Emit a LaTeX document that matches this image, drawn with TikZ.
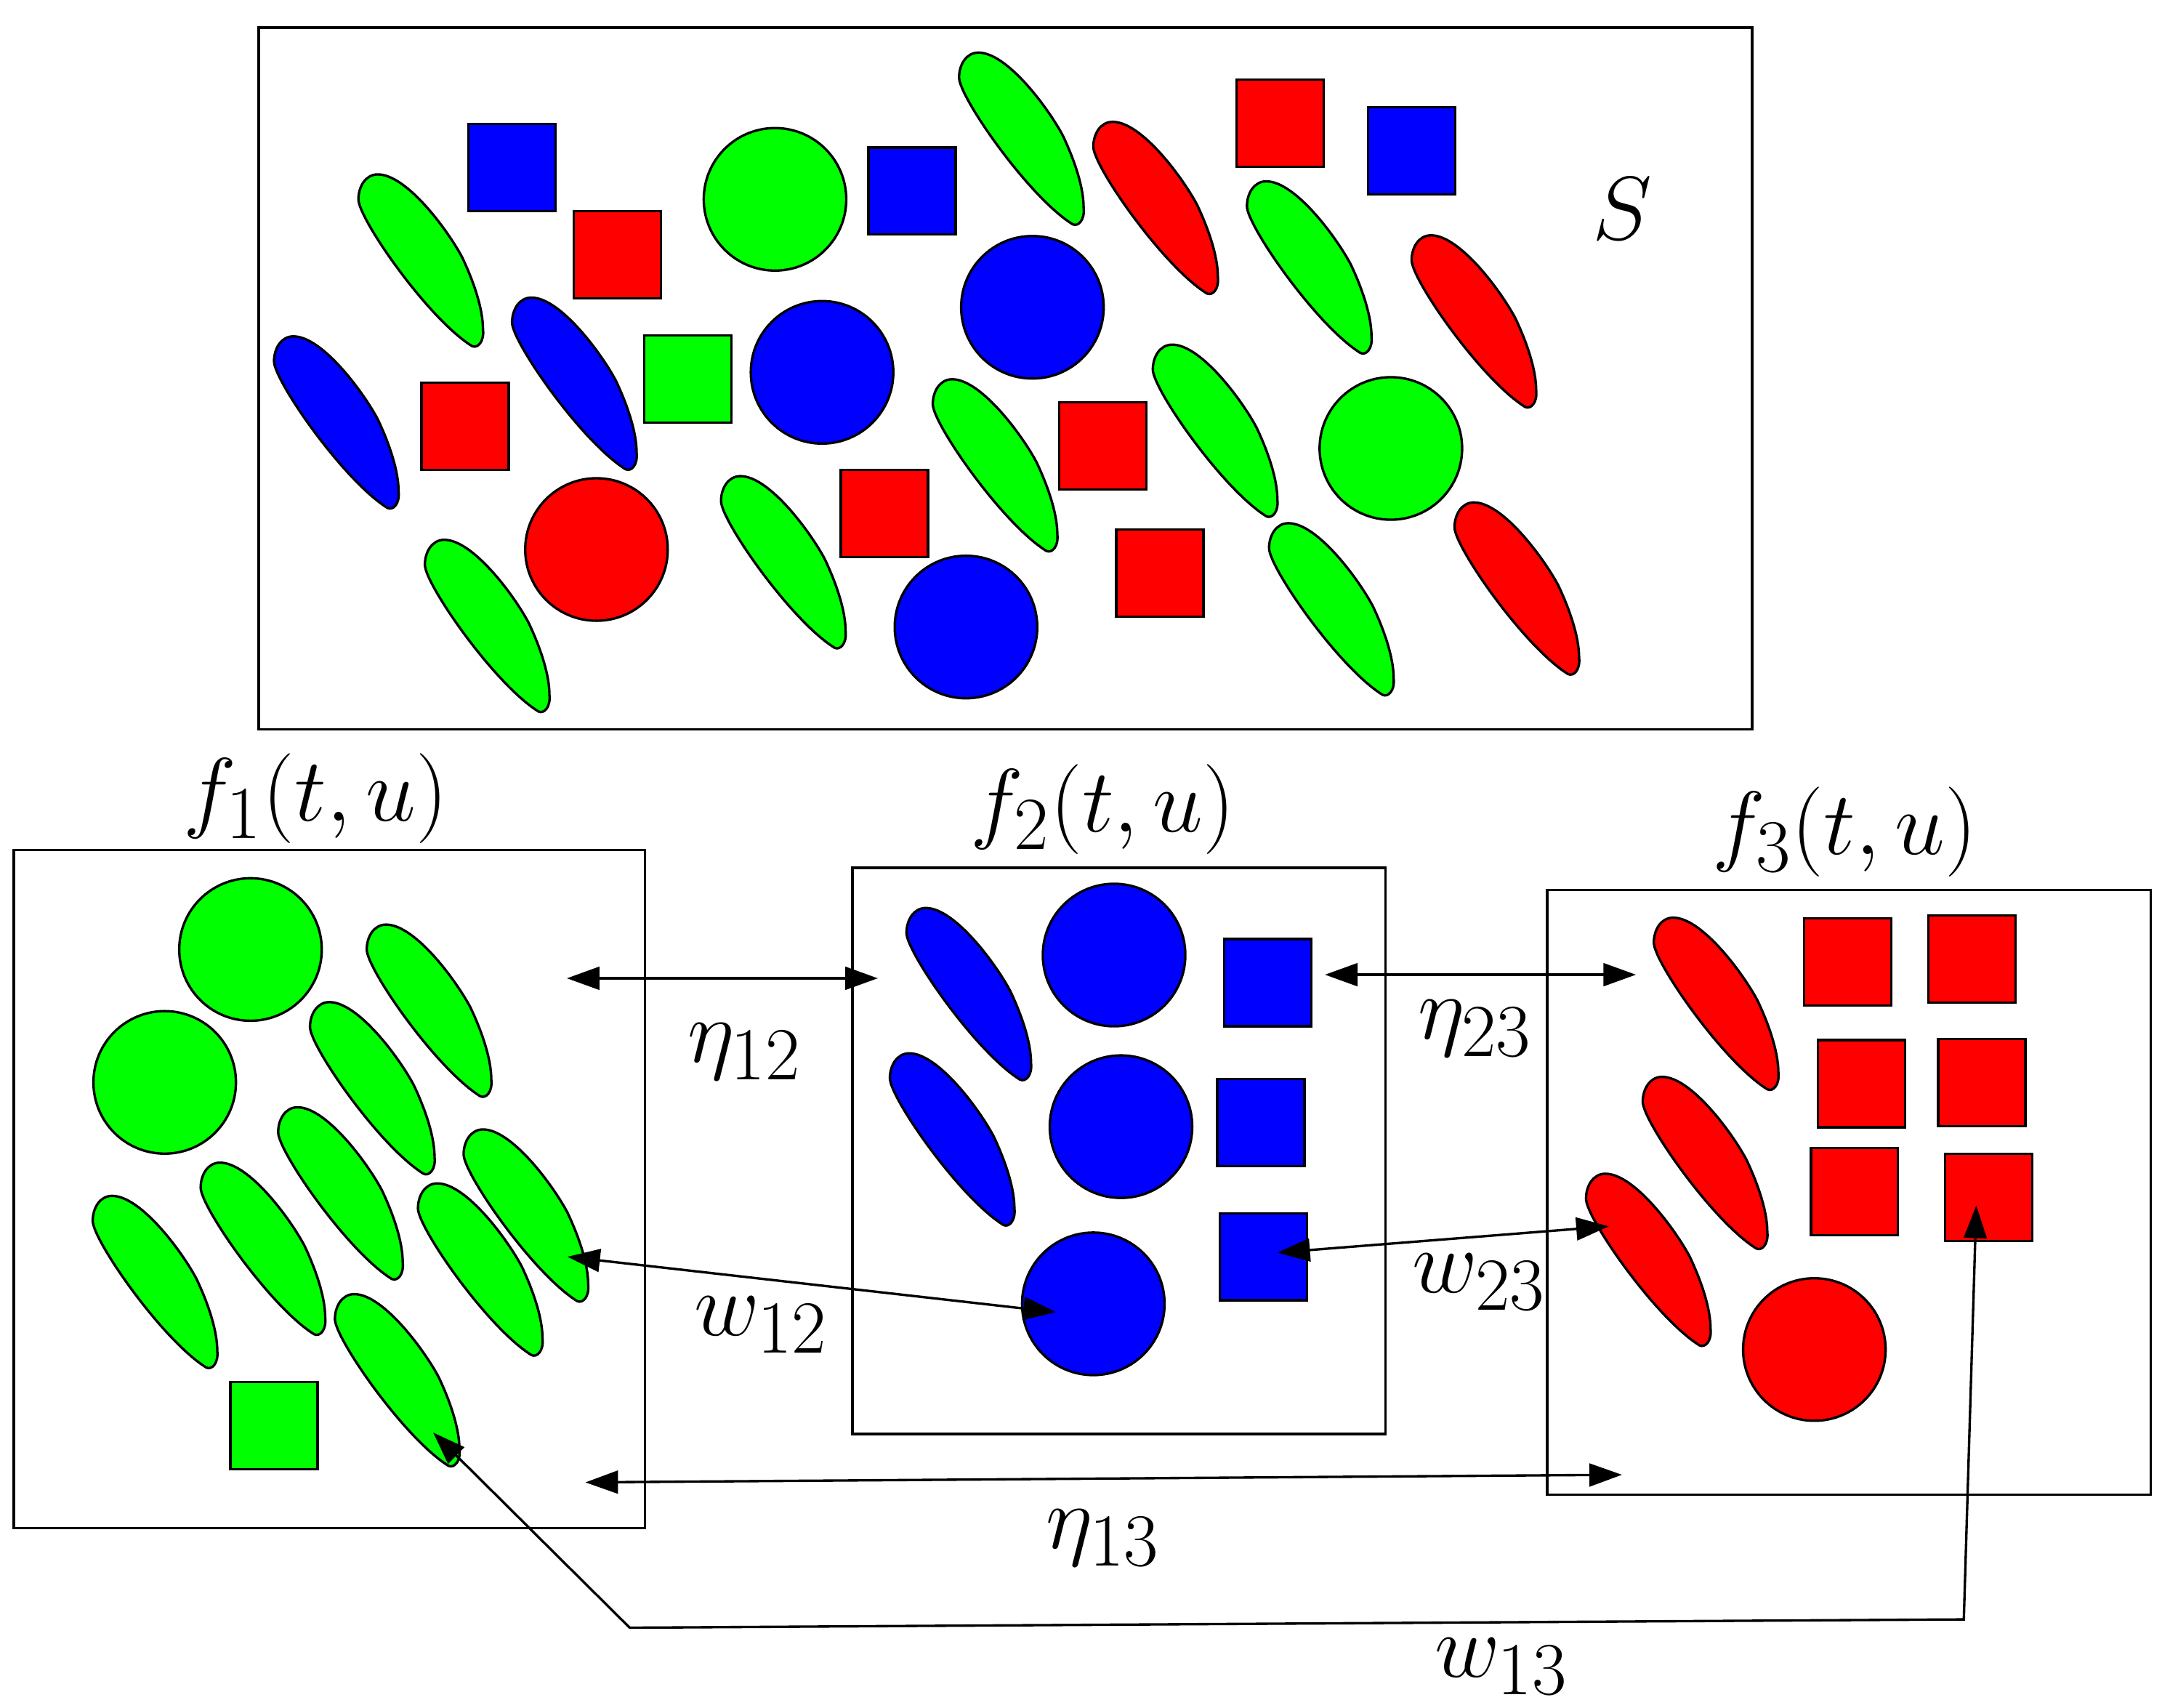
\documentclass[tikz,border=0pt]{standalone}
\usetikzlibrary{arrows.meta}
\definecolor{cg}{RGB}{0,255,0}
\definecolor{cb}{RGB}{0,0,255}
\definecolor{cr}{RGB}{255,0,0}
\begin{document}
\begin{tikzpicture}[x=0.02cm, y=-0.02cm,
  ol/.style={draw=black, line width=1pt},
  sq/.style={ol, rectangle, minimum size=1.26cm, inner sep=0pt},
  circ/.style={ol, circle, minimum size=2.06cm, inner sep=0pt},
  box/.style={draw=black, line width=1pt},
  lbl/.style={scale=1.486, inner sep=0pt, font=\Huge},
  dbl/.style={line width=1pt, {Triangle[length=13.4pt,width=9.4pt]}-{Triangle[length=13.4pt,width=9.4pt]}},
  pics/drop/.style={code={
    \draw[ol, fill=#1] (-31,-62) .. controls (-40,-62) and (-45,-53) .. (-45,-44)
      .. controls (-45,-30) and (5,42) .. (37,62)
      .. controls (41,64) and (46,59) .. (45,50)
      .. controls (45,36) and (39,17) .. (30,-2)
      .. controls (20,-21) and (-10,-62) .. (-31,-62) -- cycle;
  }}
]
\useasboundingbox (0,0) rectangle (1568,1234);

% ---------- top box S ----------
\draw[box] (187,20) rectangle (1266,527);
\node[lbl] (S) at (1172,151) {$S$};

\foreach \p in {(304,188),(738,100),(566,406),(719,336),(878,311),(946,193),(352,452),(962,440)}
  \pic at \p {drop=cg};
\foreach \p in {(243,305),(415,277)}
  \pic at \p {drop=cb};
\foreach \p in {(835,150),(1065,232),(1096,425)}
  \pic at \p {drop=cr};

\node[sq, fill=cb] (sb1) at (370,121) {};
\node[sq, fill=cb] (sb2) at (659,138) {};
\node[sq, fill=cb] (sb3) at (1020,109) {};
\node[sq, fill=cr] (sr1) at (446,184) {};
\node[sq, fill=cr] (sr2) at (336,308) {};
\node[sq, fill=cr] (sr3) at (925,89) {};
\node[sq, fill=cr] (sr4) at (797,322) {};
\node[sq, fill=cr] (sr5) at (639,371) {};
\node[sq, fill=cr] (sr6) at (838,414) {};
\node[sq, fill=cg] (sg1) at (497,274) {};

\node[circ, fill=cg] (cg1) at (560,144) {};
\node[circ, fill=cg] (cg2) at (1005,324) {};
\node[circ, fill=cb] (cb1) at (594,269) {};
\node[circ, fill=cb] (cb2) at (746,222) {};
\node[circ, fill=cb] (cb3) at (698,453) {};
\node[circ, fill=cr] (cr1) at (431,397) {};

% ---------- f1 box ----------
\draw[box] (10,614) rectangle (466,1104);
\node[lbl] (f1) at (228,577) {$f_1(t,u)$};
\node[circ, fill=cg] (g1a) at (181,686) {};
\node[circ, fill=cg] (g1b) at (119,782) {};
\foreach \p in {(310,730),(269,786),(246,862),(380,878),(190,902),(112,926),(347,917),(287,997)}
  \pic at \p {drop=cg};
\node[sq, fill=cg] (g1s) at (198,1030) {};

% ---------- f2 box ----------
\draw[box] (616,627) rectangle (1001,1036);
\node[lbl] (f2) at (797,585) {$f_2(t,u)$};
\foreach \p in {(700,718),(688,823)}
  \pic at \p {drop=cb};
\node[circ, fill=cb] (b2a) at (805,690) {};
\node[circ, fill=cb] (b2b) at (810,814) {};
\node[circ, fill=cb] (b2c) at (790,942) {};
\node[sq, fill=cb] (b2s1) at (916,710) {};
\node[sq, fill=cb] (b2s2) at (911,811) {};
\node[sq, fill=cb] (b2s3) at (913,908) {};

% ---------- f3 box ----------
\draw[box] (1118,643) rectangle (1554,1080);
\node[lbl] (f3) at (1333,601) {$f_3(t,u)$};
\foreach \p in {(1240,725),(1232,840),(1191,910)}
  \pic at \p {drop=cr};
\node[sq, fill=cr] (r3s1) at (1335,695) {};
\node[sq, fill=cr] (r3s2) at (1425,693) {};
\node[sq, fill=cr] (r3s3) at (1345,783) {};
\node[sq, fill=cr] (r3s4) at (1432,782) {};
\node[sq, fill=cr] (r3s5) at (1340,861) {};
\node[sq, fill=cr] (r3s6) at (1437,865) {};
\node[circ, fill=cr] (r3c) at (1311,975) {};

% ---------- connectors ----------
\coordinate (e12a) at (409.6,706.8);
\coordinate (e12b) at (634.3,706.8);
\coordinate (e23a) at (957.4,704.2);
\coordinate (e23b) at (1182.1,704.2);
\coordinate (e13a) at (423,1071);
\coordinate (e13b) at (1172,1065.5);
\coordinate (w12a) at (410,908);
\coordinate (w12b) at (763,948);
\coordinate (w23a) at (923,905);
\coordinate (w23b) at (1162.5,886);
\coordinate (w13a) at (313,1035);
\coordinate (w13b) at (455,1176);
\coordinate (w13c) at (1419,1170);
\coordinate (w13d) at (1428,871);

\draw[dbl] (e12a) -- (e12b);
\draw[dbl] (e23a) -- (e23b);
\draw[dbl] (e13a) -- (e13b);
\draw[dbl] (w12a) -- (w12b);
\draw[dbl] (w23a) -- (w23b);
\draw[dbl] (w13a) -- (w13b) -- (w13c) -- (w13d);

\node[lbl] (le12) at (538,760) {$\eta_{12}$};
\node[lbl] (le23) at (1066,743) {$\eta_{23}$};
\node[lbl] (le13) at (797,1111) {$\eta_{13}$};
\node[lbl] (lw12) at (550,957) {$w_{12}$};
\node[lbl] (lw23) at (1069,926) {$w_{23}$};
\node[lbl] (lw13) at (1085,1204) {$w_{13}$};
\end{tikzpicture}
\end{document}
